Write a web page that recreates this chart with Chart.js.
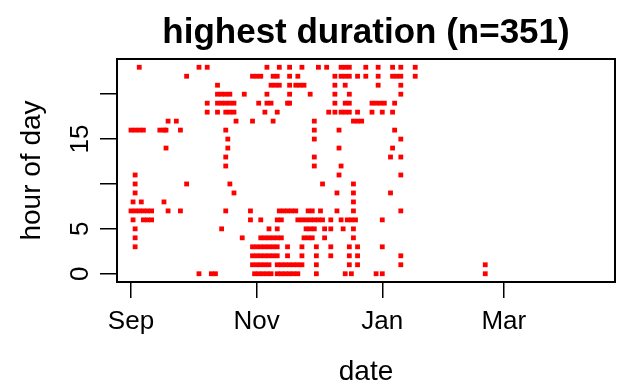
<!DOCTYPE html>
<html>
<head>
<meta charset="utf-8">
<script src="https://cdn.jsdelivr.net/npm/chart.js@4"></script>
<style>body{margin:0;background:#fff}</style>
</head>
<body>
<canvas id="chart" width="643" height="389"></canvas>
<script>
// days are counted from 1 Sep; one list of days per hour of day
const daysAt0 = [33, 39, 41, 60, 62, 64, 66, 68, 71, 73, 75, 77, 79, 81, 90, 104, 107, 119, 122, 172];
const daysAt1 = [59, 61, 63, 65, 67, 71, 73, 75, 77, 79, 81, 83, 90, 106, 110, 131, 172];
const daysAt2 = [59, 61, 63, 65, 67, 69, 71, 76, 83, 90, 97, 106, 110, 131];
const daysAt3 = [2, 59, 61, 63, 65, 67, 69, 71, 76, 83, 90, 97, 106, 110, 122];
const daysAt4 = [2, 54, 63, 65, 67, 69, 71, 73, 84, 86, 88, 94, 108];
const daysAt5 = [2, 44, 67, 71, 85, 87, 89, 94, 97, 103, 108];
const daysAt6 = [1, 6, 8, 10, 58, 63, 71, 73, 81, 83, 85, 87, 89, 91, 93, 97, 102, 105, 107, 109, 122];
const daysAt7 = [0, 2, 4, 6, 8, 10, 18, 24, 46, 58, 72, 74, 76, 78, 80, 86, 88, 92, 100, 108, 131];
const daysAt8 = [1, 5, 16, 108];
const daysAt9 = [2, 50, 100, 108, 126];
const daysAt10 = [2, 27, 48, 93, 108];
const daysAt11 = [2, 101, 131];
const daysAt12 = [46, 89, 102];
const daysAt13 = [46, 89, 126, 131];
const daysAt14 = [17, 47, 101, 127];
const daysAt15 = [47, 89, 131];
const daysAt16 = [0, 2, 4, 6, 14, 16, 17, 24, 46, 89, 101, 128];
const daysAt17 = [18, 22, 51, 59, 69, 89, 108, 110, 112];
const daysAt18 = [37, 42, 46, 48, 50, 65, 71, 96, 99, 102, 104, 106, 110, 117, 122, 127];
const daysAt19 = [37, 42, 44, 46, 48, 50, 62, 66, 68, 76, 77, 99, 104, 106, 117, 119, 121, 123, 128];
const daysAt20 = [42, 44, 46, 48, 55, 66, 77, 87, 99, 106, 131];
const daysAt21 = [42, 68, 70, 72, 77, 80, 82, 84, 99, 104, 120, 131];
const daysAt22 = [27, 59, 61, 63, 69, 71, 77, 81, 99, 102, 104, 106, 110, 114, 120, 127, 129, 131, 138];
const daysAt23 = [4, 33, 37, 66, 72, 77, 83, 91, 95, 102, 104, 106, 114, 120, 127, 131, 138];

const monthTicks = [0, 61, 122, 181];
const monthLabels = ["Sep", "Nov", "Jan", "Mar"];
const hourTicks = [0, 5, 10, 15, 20];
const hourLabels = ["0", "5", "", "15", ""];

const byHour = [daysAt0, daysAt1, daysAt2, daysAt3, daysAt4, daysAt5, daysAt6, daysAt7,
  daysAt8, daysAt9, daysAt10, daysAt11, daysAt12, daysAt13, daysAt14, daysAt15,
  daysAt16, daysAt17, daysAt18, daysAt19, daysAt20, daysAt21, daysAt22, daysAt23];

const points = [];
byHour.forEach((days, hour) => {
  days.forEach(d => points.push({ x: d, y: hour }));
});

const FONT = "'Liberation Sans', Arial, sans-serif";

// R style box round the plot area
const boxPlugin = {
  id: "box",
  afterDraw(chart) {
    const { ctx, chartArea: a } = chart;
    ctx.save();
    ctx.strokeStyle = "#000";
    ctx.lineWidth = 2;
    ctx.strokeRect(a.left, a.top, a.right - a.left, a.bottom - a.top);
    ctx.restore();
  }
};

new Chart(document.getElementById("chart").getContext("2d"), {
  type: "scatter",
  data: {
    datasets: [{
      data: points,
      pointStyle: "rect",
      pointRadius: 3.4,
      pointBorderWidth: 0,
      backgroundColor: "#ff0000",
      borderColor: "#ff0000"
    }]
  },
  options: {
    responsive: false,
    animation: false,
    devicePixelRatio: 1,
    layout: { padding: { left: 0, right: 28, top: 0, bottom: 0 } },
    plugins: {
      legend: { display: false },
      tooltip: { enabled: false },
      title: {
        display: true,
        text: "highest duration (n=351)",
        fullSize: false,
        color: "#000",
        font: { family: FONT, size: 35, weight: "bold", lineHeight: 1.2 },
        padding: { top: 12, bottom: 5 }
      }
    },
    scales: {
      x: {
        type: "linear",
        min: -6.8,
        max: 235,
        afterBuildTicks: s => { s.ticks = monthTicks.map(v => ({ value: v })); },
        afterFit: s => { s.height = 107; },
        ticks: {
          color: "#000",
          font: { family: FONT, size: 26 },
          padding: 8,
          maxRotation: 0,
          autoSkip: false,
          callback: (v, i) => monthLabels[i]
        },
        grid: { drawOnChartArea: false, tickLength: 16, color: "#000", lineWidth: 1.5 },
        border: { display: false },
        title: {
          display: true,
          text: "date",
          color: "#000",
          font: { family: FONT, size: 28, lineHeight: 1.2 },
          padding: { top: 0, bottom: 0 }
        }
      },
      y: {
        type: "linear",
        min: -0.92,
        max: 23.92,
        afterBuildTicks: s => { s.ticks = hourTicks.map(v => ({ value: v })); },
        afterFit: s => { s.width = 117; },
        ticks: {
          color: "#000",
          font: { family: FONT, size: 26 },
          padding: 5,
          minRotation: 90,
          maxRotation: 90,
          crossAlign: "center",
          autoSkip: false,
          callback: (v, i) => hourLabels[i]
        },
        grid: { drawOnChartArea: false, tickLength: 17, color: "#000", lineWidth: 1.5 },
        border: { display: false },
        title: {
          display: true,
          text: "hour of day",
          color: "#000",
          font: { family: FONT, size: 28, lineHeight: 1.2 },
          padding: { top: 15, bottom: 0 }
        }
      }
    }
  },
  plugins: [boxPlugin]
});
</script>
</body>
</html>
